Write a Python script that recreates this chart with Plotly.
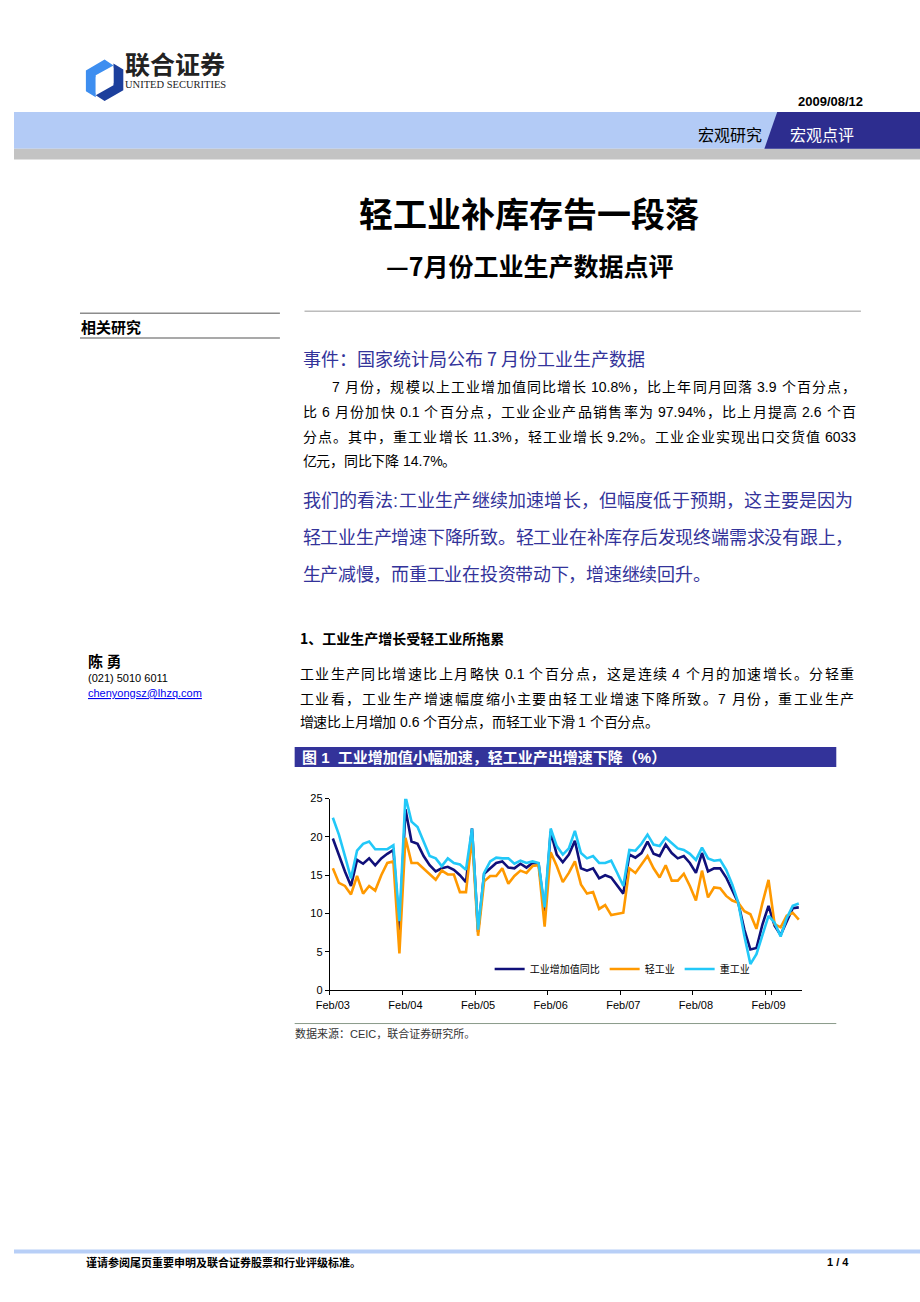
import plotly.graph_objects as go

# ---------------- data ----------------
month_names = ["Jan", "Feb", "Mar", "Apr", "May", "Jun", "Jul", "Aug", "Sep", "Oct", "Nov", "Dec"]
months = []
yy, mm = 2003, 2
for _ in range(78):
    months.append(f"{month_names[mm - 1]}/{yy % 100:02d}")
    mm += 1
    if mm > 12:
        mm, yy = 1, yy + 1

tick_labels = ["Feb/03", "Feb/04", "Feb/05", "Feb/06", "Feb/07", "Feb/08", "Feb/09"]

total_yoy = [19.8, 17.5, 15.5, 13.6, 17.0, 16.5, 17.2, 16.3, 17.2, 17.8, 18.3, 7.8,
             23.6, 19.4, 19.1, 17.5, 16.3, 15.5, 15.9, 16.1, 15.7, 15.0, 14.1, 21.1,
             7.6, 15.2, 15.9, 16.6, 16.8, 16.0, 15.9, 16.5, 16.0, 16.6, 16.5, 10.3,
             20.7, 17.7, 16.7, 17.7, 19.5, 15.9, 15.6, 15.9, 14.6, 15.0, 14.7, 13.6,
             12.6, 17.7, 17.3, 17.9, 19.4, 17.8, 17.5, 19.0, 17.9, 17.2, 17.5, 16.6,
             15.3, 17.9, 15.5, 15.9, 15.9, 14.7, 13.1, 11.4, 7.9, 5.3, 5.5, 8.6,
             11.0, 8.4, 7.2, 9.0, 10.7, 10.8]

light_ind = [15.9, 14.0, 13.6, 12.5, 14.9, 12.6, 13.6, 13.0, 15.0, 16.6, 16.8, 4.8,
             19.9, 16.6, 16.6, 15.9, 15.2, 14.4, 15.6, 15.1, 15.1, 12.8, 12.8, 20.0,
             7.1, 14.2, 14.9, 14.9, 15.9, 13.9, 14.9, 15.6, 15.3, 16.2, 16.3, 8.3,
             18.0, 16.2, 14.1, 15.3, 16.8, 13.8, 12.6, 12.8, 10.6, 11.1, 9.8, 10.0,
             10.1, 15.9, 15.3, 16.4, 17.5, 15.9, 14.7, 16.3, 14.3, 14.3, 15.2, 13.6,
             11.7, 15.6, 12.1, 13.4, 13.3, 12.3, 11.7, 11.4, 10.3, 9.9, 8.0, 11.4,
             14.4, 8.6, 8.2, 9.7, 10.1, 9.2]

heavy_ind = [22.5, 20.3, 17.5, 14.6, 18.2, 19.1, 19.4, 18.4, 18.4, 18.4, 18.9, 9.0,
             25.3, 22.0, 21.3, 19.4, 17.5, 17.2, 16.2, 17.2, 16.6, 16.4, 15.7, 21.1,
             7.9, 15.3, 16.8, 17.3, 17.2, 17.2, 16.5, 16.9, 16.6, 16.8, 16.6, 10.8,
             21.1, 18.8, 17.7, 18.5, 20.8, 17.9, 17.2, 17.5, 16.6, 16.6, 16.9, 15.3,
             13.6, 18.3, 18.2, 19.1, 20.3, 19.0, 18.8, 19.9, 19.2, 18.5, 18.3, 17.8,
             17.0, 18.6, 17.2, 16.9, 17.0, 15.7, 13.8, 11.4, 7.1, 3.4, 4.7, 7.3,
             9.7, 8.8, 7.0, 9.4, 11.0, 11.3]

series_names = ["工业增加值同比", "轻工业", "重工业"]
series_colors = ["#10107a", "#ff9900", "#22c8f8"]

# ---------------- page helpers ----------------
W, H = 920, 1302
CJK = "Noto Sans CJK SC"
SANS = "Liberation Sans, Noto Sans CJK SC"


def px(x):
    return x / W


def py(y):
    return 1 - y / H


annotations = []
shapes = []


def text(x, y, s, size, color="#000000", bold=False, family=SANS, xanchor="left"):
    annotations.append(dict(
        x=px(x), y=py(y), xref="paper", yref="paper", showarrow=False,
        text=f"<b>{s}</b>" if bold else s, xanchor=xanchor, yanchor="middle",
        borderpad=0, borderwidth=0, align="left",
        font=dict(size=size, color=color, family=family)))


def rect(x0, y0, x1, y1, color):
    shapes.append(dict(type="rect", xref="paper", yref="paper",
                       x0=px(x0), x1=px(x1), y0=py(y1), y1=py(y0),
                       fillcolor=color, line=dict(width=0), layer="below"))


def hline(x0, x1, y, color, width=1):
    shapes.append(dict(type="line", xref="paper", yref="paper",
                       x0=px(x0), x1=px(x1), y0=py(y), y1=py(y),
                       line=dict(color=color, width=width)))


def poly(points, color):
    d = "M " + " L ".join(f"{px(a):.5f},{py(b):.5f}" for a, b in points) + " Z"
    shapes.append(dict(type="path", xref="paper", yref="paper", path=d,
                       fillcolor=color, line=dict(width=0)))


ASCII_W = {".": 0.278, "%": 0.889, " ": 0.278, "(": 0.333, ")": 0.333, ":": 0.278, "/": 0.278}


def ascii_width(s):
    return sum(ASCII_W.get(c, 0.556) for c in s)


def tokens(s):
    out, run = [], ""
    for c in s:
        if ord(c) < 128:
            run += c
        else:
            if run:
                out.append(run)
                run = ""
            out.append(c)
    if run:
        out.append(run)
    return out


def line_text(x0, x1, y, s, size, color="#000000", justify=True, bold=False):
    items = []
    for t in tokens(s):
        if ord(t[0]) < 128:
            lead = len(t) - len(t.lstrip(" "))
            items.append((t.strip(" "), ascii_width(t) * size, lead * 0.278 * size))
        else:
            items.append((t, size, 0.0))
    natural = sum(a for _, a, _ in items)
    extra = (x1 - x0 - natural) / (len(items) - 1) if justify and len(items) > 1 else 0
    cur = x0
    for t, adv, lead in items:
        if t:
            text(cur + lead, y, t, size, color, bold)
        cur += adv + extra


# ---------------- header ----------------
poly([(92, 54), (73, 65), (73, 86), (83, 92), (83, 70), (101, 60)], "#3d8ef0")
poly([(92, 96), (111, 85), (111, 64), (101, 58), (101, 80), (83, 90)], "#1c3f9c")
poly([(83, 72), (101, 62), (101, 78), (83, 88)], "#ffffff")
annotations.append(dict(
    x=px(113), y=py(66), xref="paper", yref="paper", showarrow=False,
    xanchor="left", yanchor="middle", align="left", borderpad=0, borderwidth=0,
    text="<span style='font-size:25px'><b>联合证券</b></span><br>UNITED SECURITIES",
    font=dict(family="Liberation Serif, Noto Sans CJK SC", size=10.5, color="#222222")))
text(862, 96, "2009/08/12", 13, "#000000", bold=True, xanchor="right")

rect(0, 107, 920, 144, "#b3cbf6")
rect(0, 144, 920, 155, "#c3c3c3")
poly([(775, 107), (920, 107), (920, 144), (762, 144)], "#2d2d8f")
text(727, 129, "宏观研究", 16, "#000000", family=CJK, xanchor="center")
text(820, 129, "宏观点评", 16, "#ffffff", family=CJK, xanchor="center")

# title
text(523, 208, "轻工业补库存告一段落", 34, "#000000", bold=True, family=CJK, xanchor="center")
text(523, 261, "—7月份工业生产数据点评", 25, "#000000", bold=True, family=CJK, xanchor="center")

# left column
hline(67, 270, 310, "#8c8c8c", 1.5)
text(68, 323, "相关研究", 15, "#000000", bold=True, family=CJK)
hline(67, 270, 335, "#8c8c8c", 1.5)
text(75, 661, "陈 勇", 15, "#000000", bold=True, family=CJK)
text(75, 678, "(021) 5010 6011", 11, "#000000")
text(75, 693, "<u>chenyongsz@lhzq.com</u>", 11, "#0000ee")

# right column
hline(295, 860, 308, "#9a9a9a", 1)
text(293, 355, "事件：国家统计局公布 7 月份工业生产数据", 18, "#33339a", family=CJK)

body1 = [
    ("7 月份，规模以上工业增加值同比增长 10.8%，比上年同月回落 3.9 个百分点，", 323, 385, True),
    ("比 6 月份加快 0.1 个百分点，工业企业产品销售率为 97.94%，比上月提高 2.6 个百", 293, 410, True),
    ("分点。其中，重工业增长 11.3%，轻工业增长 9.2%。工业企业实现出口交货值 6033", 293, 435, True),
    ("亿元，同比下降 14.7%。", 293, 459, False),
]
for s, x0, y, j in body1:
    line_text(x0, 855, y, s, 14, "#000000", justify=j)

view = [
    ("我们的看法:工业生产继续加速增长，但幅度低于预期，这主要是因为", 500, True),
    ("轻工业生产增速下降所致。轻工业在补库存后发现终端需求没有跟上，", 537, True),
    ("生产减慢，而重工业在投资带动下，增速继续回升。", 574, False),
]
for s, y, j in view:
    line_text(293, 852, y, s, 18, "#33339a", justify=j)

text(290, 638, "1、工业生产增长受轻工业所拖累", 14, "#000000", bold=True, family=CJK)

body2 = [
    ("工业生产同比增速比上月略快 0.1 个百分点，这是连续 4 个月的加速增长。分轻重", 674, True),
    ("工业看，工业生产增速幅度缩小主要由轻工业增速下降所致。7 月份，重工业生产", 699, True),
    ("增速比上月增加 0.6 个百分点，而轻工业下滑 1 个百分点。", 723, False),
]
for s, y, j in body2:
    line_text(290, 853, y, s, 14, "#000000", justify=j)

# figure title bar
rect(285, 748, 835, 768, "#33339a")
text(292, 758, "图 1  工业增加值小幅加速，轻工业产出增速下降（%）", 15, "#ffffff", bold=True)

# source
hline(285, 835, 1027, "#8a9a8a", 1)
text(285, 1037, "数据来源：CEIC，联合证券研究所。", 11, "#333333")

# footer
rect(0, 1255, 920, 1259, "#b8cff7")
text(73, 1268, "谨请参阅尾页重要申明及联合证券股票和行业评级标准。", 11, "#000000", bold=True, family=CJK)
text(848, 1268, "1 / 4", 11, "#000000", bold=True, xanchor="right")

# ---------------- chart ----------------
fig = go.Figure()
for vals, name, color in zip([total_yoy, light_ind, heavy_ind], series_names, series_colors):
    fig.add_trace(go.Scatter(x=months, y=vals, mode="lines", name=name,
                             line=dict(color=color, width=2.6)))

fig.update_layout(
    width=W, height=H,
    margin=dict(l=0, r=0, t=0, b=0),
    paper_bgcolor="#ffffff", plot_bgcolor="#ffffff",
    showlegend=True,
    legend=dict(orientation="h", x=px(483), y=py(972), xanchor="left", yanchor="middle",
                bgcolor="rgba(0,0,0,0)", itemwidth=30,
                font=dict(family=CJK, size=10, color="#000000")),
    xaxis=dict(domain=[px(320.7), px(800)], type="category",
               categoryorder="array", categoryarray=months,
               range=[-0.5, len(months) - 0.5],
               tickmode="array", tickvals=tick_labels, ticktext=tick_labels,
               tickson="boundaries", ticks="outside", ticklen=4, tickcolor="#000000",
               tickangle=0, ticklabelstandoff=5,
               showline=True, linecolor="#000000", linewidth=1,
               showgrid=False, zeroline=False,
               tickfont=dict(family="Liberation Sans", size=11, color="#000000")),
    yaxis=dict(domain=[py(993.3), py(800)], range=[0, 25],
               tickmode="array", tickvals=[0, 5, 10, 15, 20, 25],
               ticks="outside", ticklen=4, tickcolor="#000000",
               showline=True, linecolor="#000000", linewidth=1,
               showgrid=False, zeroline=False,
               tickfont=dict(family="Liberation Sans", size=11, color="#000000")),
    annotations=annotations,
    shapes=shapes,
)

fig.write_html("out.html", config={"displayModeBar": False},
               post_script="document.body.style.margin='0';document.body.style.overflow='hidden';")
